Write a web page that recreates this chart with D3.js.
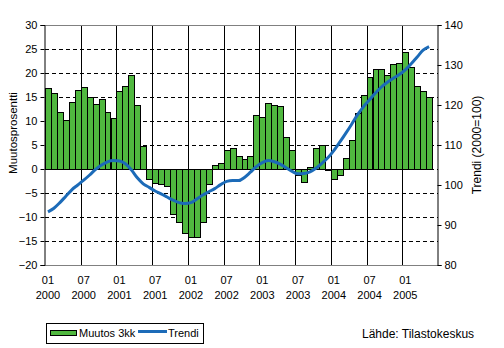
<!DOCTYPE html>
<html>
<head>
<meta charset="utf-8">
<script src="https://cdn.jsdelivr.net/npm/d3@7"></script>
<style>
  html, body { margin: 0; padding: 0; background: #fff; }
  svg { display: block; font-family: "Liberation Sans", Arial, sans-serif; }
</style>
</head>
<body>
<svg id="chart" width="504" height="348"></svg>
<script>
// Months shown on the category axis: January 2000 – June 2005
const years = ["2000", "2001", "2002", "2003", "2004", "2005"];
const monthCodes = ["01", "02", "03", "04", "05", "06", "07", "08", "09", "10", "11", "12"];
const categories = years.flatMap(y => monthCodes.map(m => m + " " + y)).slice(0, 66);

// Three-month change, percent (left axis)
const muutos3kk = [
  16.8, 15.8, 11.8, 10.3, 13.9, 16.4, 17.1, 14.9, 13.5, 14.5, 11.8, 10.6,
  16.2, 17.3, 19.5, 13.3, 4.8, -2.1, -3.0, -3.1, -3.5, -9.3, -11.0, -13.4,
  -14.1, -14.1, -11.0, -3.2, 0.8, 1.3, 3.9, 4.4, 2.8, 2.0, 2.8, 11.2,
  10.8, 13.7, 13.4, 13.1, 6.6, 4.0, -1.2, -2.7, 0.4, 4.3, 5.0, -0.2,
  -2.1, -1.3, 2.2, 6.0, 11.6, 15.4, 19.1, 20.9, 20.9, 19.6, 21.8, 22.0,
  24.3, 21.2, 17.3, 16.2, 14.9
];

// Trend index, 2000=100 (right axis)
const trendi = [
  93.3, 94.2, 95.6, 97.2, 98.8, 100.0, 101.2, 102.5, 103.9, 105.0, 105.8, 106.1,
  106.0, 105.3, 103.8, 101.8, 100.3, 99.4, 98.5, 97.8, 97.0, 96.2, 95.6, 95.4,
  95.6, 96.5, 97.5, 98.3, 99.1, 100.1, 100.9, 101.1, 101.1, 101.9, 103.2, 104.6,
  105.6, 106.1, 105.8, 105.2, 104.3, 103.4, 102.8, 102.9, 103.3, 104.2, 105.4, 106.8,
  108.6, 110.7, 112.9, 115.2, 117.6, 119.6, 121.3, 123.0, 124.5, 125.7, 126.7, 127.6,
  128.8, 130.3, 132.0, 133.7, 134.6
];

const leftTicks = [-20, -15, -10, -5, 0, 5, 10, 15, 20, 25, 30];
const rightTicks = [80, 90, 100, 110, 120, 130, 140];
const labelledMonths = ["01", "07"];

const seriesNames = ["Muutos 3kk", "Trendi"];
const leftTitle = "Muutosprosentti";
const rightTitle = "Trendi (2000=100)";
const sourceText = "Lähde: Tilastokeskus";

const barColor = "#50b83f";
const lineColor = "#1c6bb8";
const fontStack = "Liberation Sans, Arial, sans-serif";

const svg = d3.select("#chart");
const plot = { left: 45, right: 438, top: 25, bottom: 265 };

const x = d3.scaleBand().domain(categories).range([plot.left, plot.right]).padding(0);
const yL = d3.scaleLinear().domain([-20, 30]).range([plot.bottom, plot.top]);
const yR = d3.scaleLinear().domain([80, 140]).range([plot.bottom, plot.top]);

const data = muutos3kk.map((v, i) => ({ key: categories[i], value: v, trend: trendi[i] }));

// Horizontal dashed gridlines
svg.append("g")
  .selectAll("line")
  .data(leftTicks.filter(t => t > -20 && t < 30))
  .join("line")
  .attr("x1", plot.left).attr("x2", plot.right)
  .attr("y1", d => Math.round(yL(d)) + 0.5).attr("y2", d => Math.round(yL(d)) + 0.5)
  .attr("stroke", "#000").attr("stroke-width", 1).attr("stroke-dasharray", "4,3");

// Vertical gridlines every six months
const halfYearKeys = categories.filter(c => labelledMonths.includes(c.slice(0, 2)));
svg.append("g")
  .selectAll("line")
  .data(halfYearKeys.slice(1))
  .join("line")
  .attr("x1", d => Math.round(x(d)) + 0.5).attr("x2", d => Math.round(x(d)) + 0.5)
  .attr("y1", plot.top).attr("y2", plot.bottom)
  .attr("stroke", "#000").attr("stroke-width", 1);

// Plot frame (top)
svg.append("line").attr("x1", plot.left).attr("x2", plot.right)
  .attr("y1", plot.top + 0.5).attr("y2", plot.top + 0.5).attr("stroke", "#808080");

// Bars
svg.append("g")
  .selectAll("rect")
  .data(data)
  .join("rect")
  .attr("x", d => Math.round(x(d.key)) + 0.5)
  .attr("width", d => Math.round(x(d.key) + x.bandwidth()) - Math.round(x(d.key)))
  .attr("y", d => Math.round(yL(Math.max(0, d.value))) + 0.5)
  .attr("height", d => Math.abs(Math.round(yL(d.value)) - Math.round(yL(0))))
  .attr("fill", barColor)
  .attr("stroke", "#000")
  .attr("stroke-width", 1);

// Plot frame (bottom)
svg.append("line").attr("x1", plot.left).attr("x2", plot.right)
  .attr("y1", plot.bottom + 0.5).attr("y2", plot.bottom + 0.5).attr("stroke", "#808080");

// Trend line
svg.append("path")
  .datum(data)
  .attr("fill", "none")
  .attr("stroke", lineColor)
  .attr("stroke-width", 3)
  .attr("stroke-linejoin", "round")
  .attr("d", d3.line().x(d => x(d.key) + x.bandwidth() / 2).y(d => yR(d.trend)).curve(d3.curveMonotoneX));

// Left axis
const leftAxis = svg.append("g")
  .attr("transform", `translate(${plot.left - 0.5},0)`)
  .call(d3.axisLeft(yL).tickValues(leftTicks).tickSize(4).tickPadding(3).tickFormat(d3.format("d")));
leftAxis.select(".domain").attr("stroke", "#000");
leftAxis.selectAll("text").attr("font-size", 11).attr("fill", "#000").attr("font-family", fontStack);
leftAxis.selectAll(".tick line").attr("stroke", "#000");

// Right axis
const rightAxis = svg.append("g")
  .attr("transform", `translate(${plot.right - 0.5},0)`)
  .call(d3.axisRight(yR).tickValues(rightTicks).tickSize(4).tickPadding(3).tickFormat(d3.format("d")));
rightAxis.select(".domain").attr("stroke", "#000");
rightAxis.selectAll("text").attr("font-size", 11).attr("fill", "#000").attr("font-family", fontStack);
rightAxis.selectAll(".tick line").attr("stroke", "#000");

// Category labels: month on one line, year below
const bottomAxis = svg.append("g")
  .attr("transform", `translate(0,${plot.bottom})`)
  .call(d3.axisBottom(x).tickValues(halfYearKeys).tickSize(0).tickPadding(0));
bottomAxis.select(".domain").remove();
bottomAxis.selectAll(".tick text")
  .attr("font-size", 11).attr("fill", "#000").attr("font-family", fontStack)
  .attr("dy", null).attr("y", 0)
  .text(null)
  .each(function (d) {
    const [m, yr] = d.split(" ");
    const t = d3.select(this);
    t.append("tspan").attr("x", 0).attr("y", 19).text(m);
    t.append("tspan").attr("x", 0).attr("y", 34).text(yr);
  });

// Axis titles
svg.append("text")
  .attr("transform", "translate(17,133) rotate(-90)")
  .attr("text-anchor", "middle").attr("font-size", 11.5).text(leftTitle);
svg.append("text")
  .attr("transform", `translate(481,${(plot.top + plot.bottom) / 2}) rotate(-90)`)
  .attr("text-anchor", "middle").attr("font-size", 12).text(rightTitle);

// Legend
const legend = svg.append("g");
legend.append("rect").attr("x", 46.5).attr("y", 323.5).attr("width", 157).attr("height", 20)
  .attr("fill", "#fff").attr("stroke", "#000");
legend.append("rect").attr("x", 50.5).attr("y", 330.5).attr("width", 26).attr("height", 5)
  .attr("fill", barColor).attr("stroke", "#000");
legend.append("text").attr("x", 79).attr("y", 337).attr("font-size", 11).text(seriesNames[0]);
legend.append("line").attr("x1", 138).attr("x2", 167).attr("y1", 331.5).attr("y2", 331.5)
  .attr("stroke", lineColor).attr("stroke-width", 3);
legend.append("text").attr("x", 168).attr("y", 337).attr("font-size", 11).text(seriesNames[1]);

// Source
svg.append("text").attr("x", 362).attr("y", 338).attr("font-size", 12).text(sourceText);
</script>
</body>
</html>
